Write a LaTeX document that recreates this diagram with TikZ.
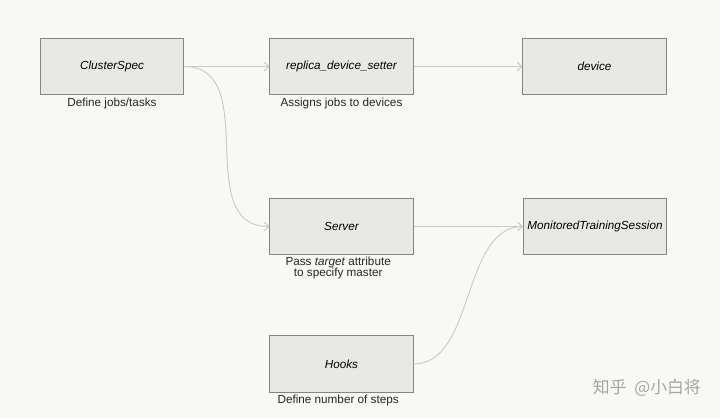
\documentclass[tikz,border=0pt]{standalone}
\usepackage{fontspec}
\setmainfont{Liberation Sans}
\newfontfamily\cjkfont{Noto Sans CJK SC}
\usetikzlibrary{arrows.meta,positioning}
\definecolor{bgpaper}{HTML}{F8F8F5}
\definecolor{boxfill}{HTML}{E8E8E5}
\definecolor{boxline}{HTML}{858583}
\definecolor{linkgray}{HTML}{CACAC6}
\tikzset{
  box/.style={draw=boxline, fill=boxfill, line width=0.9pt, minimum width=4.3cm, minimum height=1.7cm, inner sep=2pt, font=\normalsize\itshape},
  caption/.style={align=center, inner sep=1pt, font=\normalsize, text=black!85},
  link/.style={draw=linkgray, line width=0.8pt, -{Straight Barb[length=1.3mm,width=2.6mm]}},
  plainlink/.style={draw=linkgray, line width=0.8pt}
}

\begin{document}
\begin{tikzpicture}[x=0.03cm, y=-0.03cm]
\fill[bgpaper] (0,0) rectangle (720,418);
\useasboundingbox (0,0) rectangle (720,418);
\node[box] (cs) at (112,66.5) {ClusterSpec};
\node[box] (rds) at (341.5,66.5) {replica\_device\_setter};
\node[box] (dev) at (594.5,66.5) {device};
\node[box] (srv) at (341.5,226.5) {Server};
\node[box] (mts) at (595,226.5) {MonitoredTrainingSession};
\node[box] (hooks) at (341.5,364) {Hooks};
% captions under the boxes
\node[caption, below=0.3mm of cs] {Define jobs/tasks};
\node[caption, below=0.3mm of rds] {Assigns jobs to devices};
\node[caption, below=0.1mm of srv, xshift=-0.1cm, align=center, font=\normalsize\linespread{0.78}\selectfont] {Pass \textit{target} attribute\\to specify master};
\node[caption, below=0.3mm of hooks, xshift=-0.1cm] {Define number of steps};
% connectors
\draw[link] (cs) -- (rds);
\draw[link] (rds) -- (dev);
\draw[link] (cs.east) to[out=0, in=180, looseness=1.1] (srv.west);
\draw[link] (srv) -- (mts);
\draw[plainlink] (hooks.east) to[out=0, in=180, looseness=0.9] (mts.west);
% watermark
\node[text=black!35, font=\cjkfont\Large, anchor=east] (mark) at (705,388) {知乎\ \ @小白将};
\end{tikzpicture}
\end{document}
